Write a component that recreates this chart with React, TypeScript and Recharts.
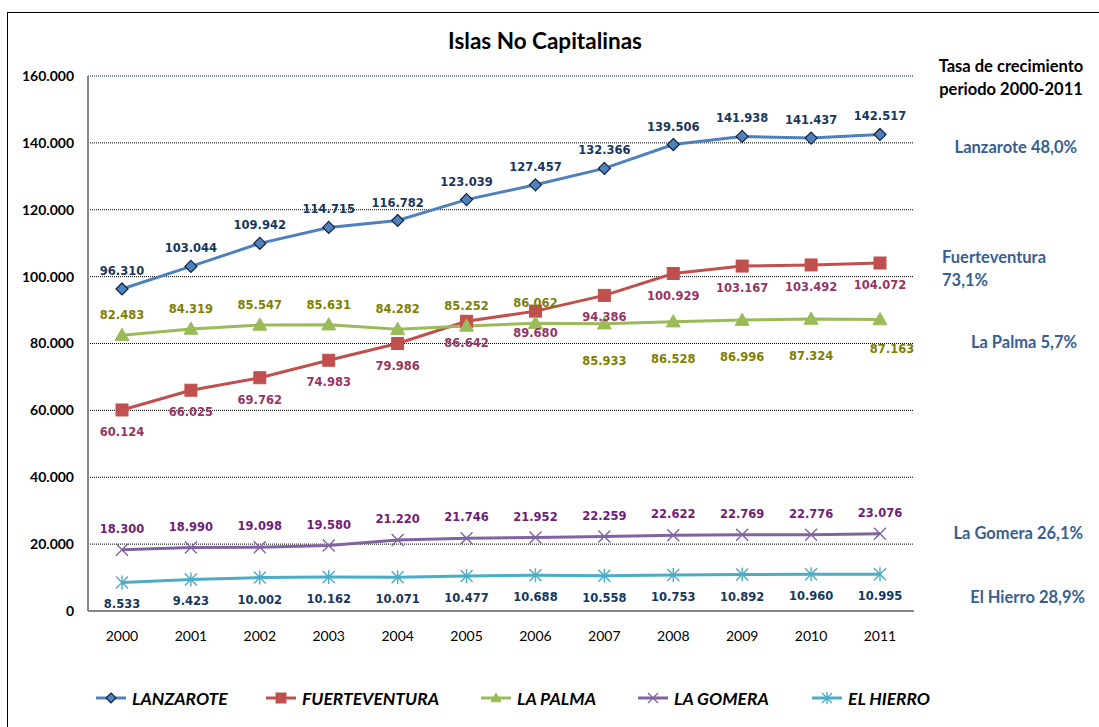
import React from "react";
import { LineChart, Line, XAxis, YAxis, CartesianGrid, LabelList, ReferenceLine } from "recharts";

const years = ["2000", "2001", "2002", "2003", "2004", "2005", "2006", "2007", "2008", "2009", "2010", "2011"];
const lanzarote = [96310, 103044, 109942, 114715, 116782, 123039, 127457, 132366, 139506, 141938, 141437, 142517];
const fuerteventura = [60124, 66025, 69762, 74983, 79986, 86642, 89680, 94386, 100929, 103167, 103492, 104072];
const laPalma = [82483, 84319, 85547, 85631, 84282, 85252, 86062, 85933, 86528, 86996, 87324, 87163];
const laGomera = [18300, 18990, 19098, 19580, 21220, 21746, 21952, 22259, 22622, 22769, 22776, 23076];
const elHierro = [8533, 9423, 10002, 10162, 10071, 10477, 10688, 10558, 10753, 10892, 10960, 10995];
const yTicks = [0, 20000, 40000, 60000, 80000, 100000, 120000, 140000, 160000];

const growthLabels = ["Lanzarote 48,0%", "Fuerteventura 73,1%", "La Palma 5,7%", "La Gomera 26,1%", "El Hierro 28,9%"];
const seriesNames = ["LANZAROTE", "FUERTEVENTURA", "LA PALMA", "LA GOMERA", "EL HIERRO"];

const data = years.map((y, i) => ({
  year: y,
  lanzarote: lanzarote[i],
  fuerteventura: fuerteventura[i],
  laPalma: laPalma[i],
  laGomera: laGomera[i],
  elHierro: elHierro[i],
}));

const fmt = (v: number) => {
  const s = String(Math.round(v));
  return s.replace(/\B(?=(\d{3})+(?!\d))/g, ".");
};

const C = {
  lanz: "#4F81BD",
  fuer: "#C0504D",
  palma: "#9BBB59",
  gom: "#8064A2",
  hier: "#4BACC6",
};

const LABEL_FONT = "'DejaVu Sans', Verdana, sans-serif";
const MAIN_FONT = "Lato, 'Open Sans', sans-serif";

const Diamond = ({ cx, cy, s = 6 }: any) => (
  <path d={`M${cx},${cy - s}L${cx + s},${cy}L${cx},${cy + s}L${cx - s},${cy}Z`} fill={C.lanz} stroke="#10243E" strokeWidth={1.2} />
);
const Square = ({ cx, cy, s = 6 }: any) => (
  <rect x={cx - s} y={cy - s} width={2 * s} height={2 * s} fill={C.fuer} stroke={C.fuer} />
);
const Tri = ({ cx, cy, s = 7 }: any) => (
  <path d={`M${cx},${cy - s}L${cx + s},${cy + s * 0.75}L${cx - s},${cy + s * 0.75}Z`} fill={C.palma} stroke={C.palma} />
);
const XMark = ({ cx, cy, s = 6 }: any) => (
  <path d={`M${cx - s},${cy - s}L${cx + s},${cy + s}M${cx - s},${cy + s}L${cx + s},${cy - s}`} stroke={C.gom} strokeWidth={1.4} fill="none" />
);
const Star = ({ cx, cy, s = 6 }: any) => (
  <path d={`M${cx - s},${cy - s}L${cx + s},${cy + s}M${cx - s},${cy + s}L${cx + s},${cy - s}M${cx},${cy - s - 1}L${cx},${cy + s + 1}`} stroke={C.hier} strokeWidth={1.4} fill="none" />
);

const dotFn = (Comp: any) => (props: any) => {
  const { cx, cy, index } = props;
  return <Comp key={`d-${index}`} cx={cx} cy={cy} />;
};

const labelFn = (color: string, off: (i: number) => [number, number]) => (props: any) => {
  const { x, y, value, index } = props;
  const [dx, dy] = off(index);
  return (
    <text
      key={`l-${index}`}
      x={Number(x) + dx}
      y={Number(y) + dy}
      textAnchor="middle"
      dominantBaseline="central"
      fill={color}
      fontFamily={LABEL_FONT}
      fontWeight="bold"
      fontSize={11.5}
    >
      {fmt(Number(value))}
    </text>
  );
};

const legendItems = [
  { label: seriesNames[0], color: C.lanz, M: Diamond, left: 95 },
  { label: seriesNames[1], color: C.fuer, M: Square, left: 265 },
  { label: seriesNames[2], color: C.palma, M: Tri, left: 480 },
  { label: seriesNames[3], color: C.gom, M: XMark, left: 637 },
  { label: seriesNames[4], color: C.hier, M: Star, left: 811 },
];

const annot = { fontFamily: MAIN_FONT, fontWeight: 700, fontSize: 16.5, color: "#376092", whiteSpace: "nowrap" as const };

export default function App() {
  return (
    <div style={{ position: "absolute", left: 0, top: 0, width: 1099, height: 727, overflow: "hidden", background: "#fff" }}>
      <div style={{ position: "absolute", left: 7, top: 12, width: 1200, height: 800, border: "1px solid #000" }} />
      <div
        style={{
          position: "absolute",
          left: 0,
          width: 1090,
          top: 27,
          textAlign: "center",
          fontFamily: MAIN_FONT,
          fontWeight: 700,
          fontSize: 22.5,
          color: "#000",
        }}
      >
        Islas No Capitalinas
      </div>
      <div style={{ position: "absolute", left: 911, width: 200, top: 55, textAlign: "center", fontFamily: MAIN_FONT, fontWeight: 700, fontSize: 16.5, lineHeight: "23px", color: "#000" }}>
        Tasa de crecimiento
        <br />
        periodo 2000-2011
      </div>
      <div style={{ ...annot, position: "absolute", right: 22, top: 137 }}>{growthLabels[0]}</div>
      <div style={{ ...annot, position: "absolute", left: 942, top: 246, lineHeight: "23px" }}>
        {growthLabels[1].split(" ")[0]}
        <br />
        {growthLabels[1].split(" ")[1]}
      </div>
      <div style={{ ...annot, position: "absolute", right: 22, top: 332 }}>{growthLabels[2]}</div>
      <div style={{ ...annot, position: "absolute", right: 16, top: 523 }}>{growthLabels[3]}</div>
      <div style={{ ...annot, position: "absolute", right: 14, top: 587 }}>{growthLabels[4]}</div>

      <div style={{ position: "absolute", left: 0, top: 0 }}>
        <LineChart width={1099} height={727} data={data} margin={{ top: 76, right: 185, bottom: 86, left: 18 }}>
          <CartesianGrid vertical={false} stroke="#000" strokeDasharray="1 1" />
          <ReferenceLine y={160000} stroke="#7F9CC8" strokeDasharray="1 1" />
          <XAxis
            dataKey="year"
            padding={{ left: 34, right: 34 }}
            tickLine={false}
            tickSize={6}
            tickMargin={14}
            height={30}
            axisLine={{ stroke: "#868686", strokeWidth: 2 }}
            tick={{ fill: "#000", fontFamily: MAIN_FONT, fontSize: 14 }}
          />
          <YAxis
            domain={[0, 160000]}
            ticks={yTicks}
            interval={0}
            tickFormatter={fmt}
            width={70}
            tickLine={false}
            tickMargin={8}
            axisLine={{ stroke: "#868686", strokeWidth: 2 }}
            tick={{ fill: "#000", fontFamily: MAIN_FONT, fontSize: 14, fontWeight: 700 }}
          />
          <YAxis yAxisId="r" orientation="right" width={0} tick={false} tickLine={false} axisLine={{ stroke: "#7F9CC8", strokeDasharray: "1 1" }} domain={[0, 1]} />
          <Line dataKey="lanzarote" stroke={C.lanz} strokeWidth={3} dot={dotFn(Diamond)} isAnimationActive={false}>
            <LabelList dataKey="lanzarote" content={labelFn("#17375E", () => [0, -18])} />
          </Line>
          <Line dataKey="fuerteventura" stroke={C.fuer} strokeWidth={3} dot={dotFn(Square)} isAnimationActive={false}>
            <LabelList dataKey="fuerteventura" content={labelFn("#953563", () => [0, 22])} />
          </Line>
          <Line dataKey="laPalma" stroke={C.palma} strokeWidth={3} dot={dotFn(Tri)} isAnimationActive={false}>
            <LabelList
              dataKey="laPalma"
              content={labelFn("#7F7F00", (i) => (i < 7 ? [0, -20] : i < 11 ? [0, 37] : [12, 29]))}
            />
          </Line>
          <Line dataKey="laGomera" stroke={C.gom} strokeWidth={3} dot={dotFn(XMark)} isAnimationActive={false}>
            <LabelList dataKey="laGomera" content={labelFn("#6F1D77", () => [0, -21])} />
          </Line>
          <Line dataKey="elHierro" stroke={C.hier} strokeWidth={3} dot={dotFn(Star)} isAnimationActive={false}>
            <LabelList dataKey="elHierro" content={labelFn("#17375E", () => [0, 22])} />
          </Line>
        </LineChart>
      </div>

      {legendItems.map((it) => (
        <div key={it.label} style={{ position: "absolute", left: it.left, top: 686, height: 24, display: "flex", alignItems: "center" }}>
          <svg width={32} height={20} style={{ display: "block" }}>
            <line x1={1} y1={10} x2={31} y2={10} stroke={it.color} strokeWidth={3} />
            <it.M cx={16} cy={10} s={5} />
          </svg>
          <span style={{ marginLeft: 5, fontFamily: MAIN_FONT, fontStyle: "italic", fontWeight: 700, fontSize: 17.5, color: "#000", whiteSpace: "nowrap" }}>{it.label}</span>
        </div>
      ))}
    </div>
  );
}
